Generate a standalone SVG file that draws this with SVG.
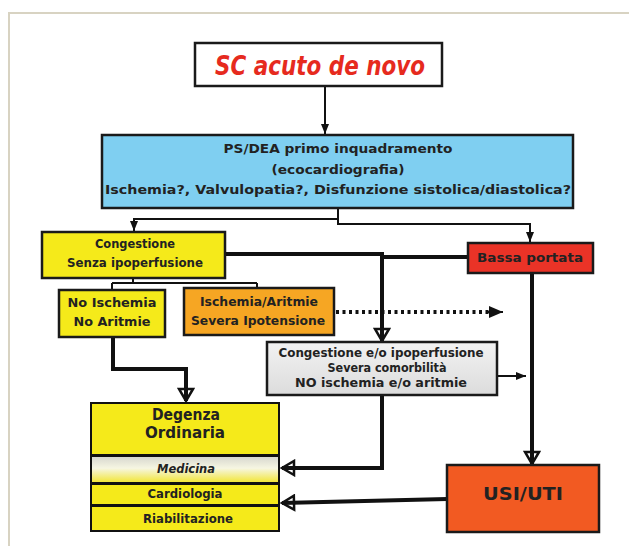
<svg xmlns="http://www.w3.org/2000/svg" width="629" height="546" viewBox="0 0 629 546">
  <style>
    .box { stroke: #1a1a1a; stroke-width: 2.5; }
    .t { font-family: "DejaVu Sans", "Liberation Sans", sans-serif; font-weight: bold; fill: #222; text-anchor: middle; }
    .thin { fill: none; stroke: #111; stroke-width: 2; }
    .thick { fill: none; stroke: #111; stroke-width: 4; }
    .dot { fill: none; stroke: #111; stroke-width: 4; stroke-dasharray: 3 3.5; }
  </style>
  <defs>
    <marker id="tip" markerUnits="userSpaceOnUse" markerWidth="10" markerHeight="10" viewBox="0 0 10 10" refX="10" refY="5" orient="auto">
      <path d="M0,1 L10,5 L0,9 Z" fill="#111"/>
    </marker>
    <marker id="tipBig" markerUnits="userSpaceOnUse" markerWidth="14" markerHeight="14" viewBox="0 0 14 14" refX="14" refY="7" orient="auto">
      <path d="M0,1 L14,7 L0,13 Z" fill="#111"/>
    </marker>
    <marker id="open" markerUnits="userSpaceOnUse" markerWidth="16" markerHeight="18" viewBox="0 0 16 18" refX="14" refY="9" orient="auto">
      <path d="M2,2 L14,9 L2,16 Z" fill="none" stroke="#111" stroke-width="2.5" stroke-linejoin="miter"/>
    </marker>
    <linearGradient id="grayFill" x1="0" y1="0" x2="0" y2="1">
      <stop offset="0" stop-color="#f2f2f2"/>
      <stop offset="1" stop-color="#dcdcdc"/>
    </linearGradient>
    <linearGradient id="medFill" x1="0" y1="0" x2="0" y2="1">
      <stop offset="0" stop-color="#d8d8d0"/>
      <stop offset="0.45" stop-color="#f6f6e2"/>
      <stop offset="1" stop-color="#f2e63a"/>
    </linearGradient>
  </defs>

  <rect width="629" height="546" fill="#ffffff"/>
  <!-- page frame -->
  <path d="M9,546 L9,13 L629,13" fill="none" stroke="#d8d3c2" stroke-width="2"/>

  <!-- connectors -->
  <g id="connectors">
    <path class="thin" d="M325,86 L325,134" marker-end="url(#tip)"/>
    <path class="thin" d="M338,208 L338,224 L530,224 L530,242" marker-end="url(#tip)"/>
    <path class="thin" d="M338,219 L134,219 L134,231" marker-end="url(#tip)"/>
    <path class="thin" d="M133,278 L133,283 M112,283 L257,283 M112,283 L112,290 M257,283 L257,288"/>
    <path class="thick" d="M225,254 L382,254 L382,341" marker-end="url(#open)"/>
    <path class="thick" d="M468,257 L380,257"/>
    <path class="thick" d="M532,273 L532,464" marker-end="url(#open)"/>
    <path class="dot" d="M336,312 L490,312"/>
    <path class="thin" d="M488,312 L503,312" marker-end="url(#tipBig)"/>
    <path class="thin" d="M497,376 L526,376" marker-end="url(#tip)"/>
    <path class="thick" d="M113,337 L113,369 L186,369 L186,401" marker-end="url(#open)"/>
    <path class="thick" d="M382,395 L382,468 L282,468" marker-end="url(#open)"/>
    <path class="thick" d="M447,499 L282,503" marker-end="url(#open)"/>
  </g>

  <g id="start">
    <rect class="box" x="195" y="43" width="247" height="43" fill="#ffffff"/>
    <text x="320" y="75" font-family="DejaVu Sans, sans-serif" font-weight="bold" font-style="italic" font-size="26" fill="#e62a1e" text-anchor="middle" textLength="210" lengthAdjust="spacingAndGlyphs">SC acuto de novo</text>
  </g>

  <g id="triage">
    <rect class="box" x="102" y="135" width="471" height="73" fill="#7fcff1"/>
    <text class="t" x="338" y="153" font-size="13" textLength="229" lengthAdjust="spacingAndGlyphs">PS/DEA primo inquadramento</text>
    <text class="t" x="338" y="174" font-size="13" textLength="133" lengthAdjust="spacingAndGlyphs">(ecocardiografia)</text>
    <text class="t" x="338" y="194" font-size="13" textLength="466" lengthAdjust="spacingAndGlyphs">Ischemia?, Valvulopatia?, Disfunzione sistolica/diastolica?</text>
  </g>

  <g id="congestione">
    <rect class="box" x="42" y="232" width="183" height="46" fill="#f5ea1a"/>
    <text class="t" x="135" y="248" font-size="12" textLength="80" lengthAdjust="spacingAndGlyphs">Congestione</text>
    <text class="t" x="135" y="267" font-size="12" textLength="136" lengthAdjust="spacingAndGlyphs">Senza ipoperfusione</text>
  </g>

  <g id="no-ischemia">
    <rect class="box" x="59" y="290" width="106" height="47" fill="#f5ea1a"/>
    <text class="t" x="112" y="307" font-size="12" textLength="89" lengthAdjust="spacingAndGlyphs">No Ischemia</text>
    <text class="t" x="112" y="326" font-size="12" textLength="77" lengthAdjust="spacingAndGlyphs">No Aritmie</text>
  </g>

  <g id="ischemia-aritmie">
    <rect class="box" x="184" y="288" width="150" height="47" fill="#f6a623"/>
    <text class="t" x="259" y="306" font-size="12" textLength="118" lengthAdjust="spacingAndGlyphs">Ischemia/Aritmie</text>
    <text class="t" x="258" y="325" font-size="12" textLength="134" lengthAdjust="spacingAndGlyphs">Severa Ipotensione</text>
  </g>

  <g id="bassa-portata">
    <rect class="box" x="468" y="243" width="125" height="30" fill="#ea3327"/>
    <text class="t" x="530" y="262" font-size="12" textLength="106" lengthAdjust="spacingAndGlyphs">Bassa portata</text>
  </g>

  <g id="comorbilita">
    <rect class="box" x="267" y="342" width="230" height="53" fill="url(#grayFill)"/>
    <text class="t" x="381" y="357" font-size="12" textLength="205" lengthAdjust="spacingAndGlyphs">Congestione e/o ipoperfusione</text>
    <text class="t" x="387" y="372" font-size="12" textLength="119" lengthAdjust="spacingAndGlyphs">Severa comorbilità</text>
    <text class="t" x="381" y="387" font-size="12" textLength="172" lengthAdjust="spacingAndGlyphs">NO ischemia e/o aritmie</text>
  </g>

  <g id="usi-uti">
    <rect class="box" x="447" y="465" width="152" height="67" fill="#f25a22"/>
    <text class="t" x="523" y="500" font-size="18" textLength="80" lengthAdjust="spacingAndGlyphs">USI/UTI</text>
  </g>

  <g id="degenza">
    <rect x="90" y="402" width="190" height="130" fill="#111"/>
    <rect x="92" y="404" width="186" height="50" fill="#f5ea1a"/>
    <rect x="92" y="457" width="186" height="25" fill="url(#medFill)"/>
    <rect x="92" y="485" width="186" height="19" fill="#f5ea1a"/>
    <rect x="92" y="507" width="186" height="23" fill="#f5ea1a"/>
    <text class="t" x="186" y="420" font-size="16" textLength="68" lengthAdjust="spacingAndGlyphs">Degenza</text>
    <text class="t" x="185" y="438" font-size="16" textLength="80" lengthAdjust="spacingAndGlyphs">Ordinaria</text>
    <text class="t" x="186" y="473" font-size="12" font-style="italic" textLength="58" lengthAdjust="spacingAndGlyphs">Medicina</text>
    <text class="t" x="185" y="498" font-size="12" textLength="75" lengthAdjust="spacingAndGlyphs">Cardiologia</text>
    <text class="t" x="188" y="523" font-size="12" textLength="90" lengthAdjust="spacingAndGlyphs">Riabilitazione</text>
  </g>
</svg>
